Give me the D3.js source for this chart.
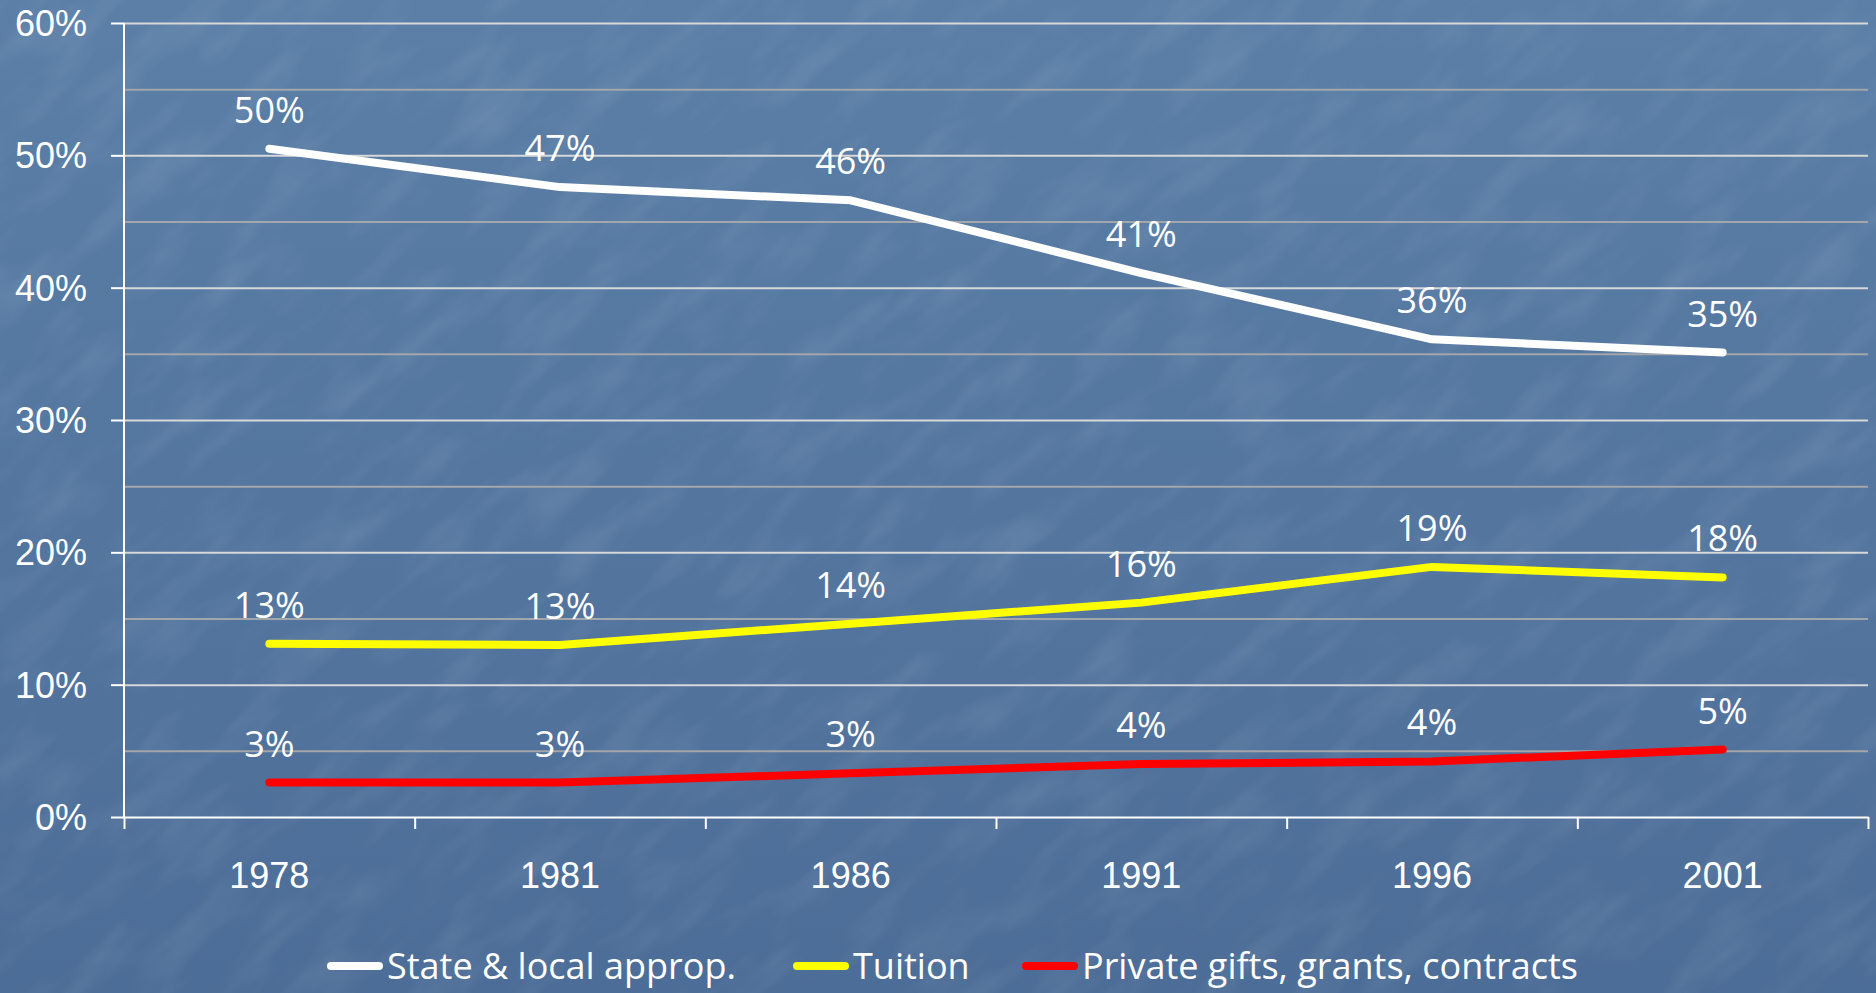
<!DOCTYPE html>
<html>
<head>
<meta charset="utf-8">
<script src="https://cdn.jsdelivr.net/npm/d3@7"></script>
<style>
  body { margin: 0; background: #52749c; }
  svg { display: block; font-family: "Open Sans", "Noto Sans", sans-serif; }
</style>
</head>
<body>
<div id="chart"></div>
<script>
var years = ["1978", "1981", "1986", "1991", "1996", "2001"];
var stateLocal = [0.505, 0.476, 0.466, 0.411, 0.361, 0.351];
var tuition = [0.131, 0.130, 0.146, 0.162, 0.189, 0.181];
var privateGifts = [0.026, 0.026, 0.033, 0.040, 0.042, 0.051];
var pointLabels = [
    ["50%", "47%", "46%", "41%", "36%", "35%"],
    ["13%", "13%", "14%", "16%", "19%", "18%"],
    ["3%", "3%", "3%", "4%", "4%", "5%"]
];
var seriesNames = ["State & local approp.", "Tuition", "Private gifts, grants, contracts"];
var seriesColors = ["#ffffff", "#ffff00", "#ff0000"];
var yTicks = [0, 0.1, 0.2, 0.3, 0.4, 0.5, 0.6];
var yMinorTicks = [0.05, 0.15, 0.25, 0.35, 0.45, 0.55];

var W = 1876, H = 993;
var margin = {top: 23, right: 8, bottom: 176, left: 124};
var series = [stateLocal, tuition, privateGifts];
var fontSize = "36px";

var svg = d3.select("#chart").append("svg")
    .attr("width", W)
    .attr("height", H);

// Background: blue gradient with a soft texture
var defs = svg.append("defs");
var grad = defs.append("linearGradient")
    .attr("id", "bg")
    .attr("x1", 0).attr("y1", 0).attr("x2", 0).attr("y2", 1);
grad.append("stop").attr("offset", "0%").attr("stop-color", "#5b7fa7");
grad.append("stop").attr("offset", "100%").attr("stop-color", "#4c6d97");
var filt = defs.append("filter").attr("id", "grain")
    .attr("x", 0).attr("y", 0).attr("width", "100%").attr("height", "100%");
filt.append("feTurbulence")
    .attr("type", "fractalNoise")
    .attr("baseFrequency", "0.01 0.03")
    .attr("numOctaves", 3)
    .attr("seed", 7);
filt.append("feColorMatrix")
    .attr("type", "matrix")
    .attr("values", "0 0 0 0 1  0 0 0 0 1  0 0 0 0 1  0 0 0 0.9 -0.4");
svg.append("rect").attr("width", W).attr("height", H).attr("fill", "url(#bg)");
svg.append("g")
    .attr("transform", "rotate(-40 " + W / 2 + " " + H / 2 + ")")
    .attr("opacity", 0.2)
  .append("rect")
    .attr("x", -600).attr("y", -900)
    .attr("width", W + 1200).attr("height", H + 1800)
    .attr("filter", "url(#grain)");

var x = d3.scaleBand()
    .domain(years)
    .range([margin.left, W - margin.right])
    .paddingInner(0).paddingOuter(0);
var y = d3.scaleLinear()
    .domain([0, 0.6])
    .range([H - margin.bottom, margin.top]);
var cx = function(d, i) { return x(years[i]) + x.bandwidth() / 2; };

// Minor gridlines (grey) then major gridlines (light)
svg.append("g")
    .attr("transform", "translate(" + margin.left + ",0)")
    .call(d3.axisLeft(y).tickValues(yMinorTicks)
        .tickSize(-(W - margin.left - margin.right)).tickFormat(""))
    .call(function(g) {
        g.select(".domain").remove();
        g.selectAll("line").attr("stroke", "#a3a6aa").attr("stroke-width", 2);
    });
svg.append("g")
    .attr("transform", "translate(" + margin.left + ",0)")
    .call(d3.axisLeft(y).tickValues(yTicks.slice(1))
        .tickSize(-(W - margin.left - margin.right)).tickFormat(""))
    .call(function(g) {
        g.select(".domain").remove();
        g.selectAll("line").attr("stroke", "#d6d8da").attr("stroke-width", 2);
    });

// Y axis
var yAxis = svg.append("g")
    .attr("transform", "translate(" + margin.left + ",0)")
    .call(d3.axisLeft(y).tickValues(yTicks).tickSize(13).tickPadding(24)
        .tickFormat(d3.format(".0%")));
yAxis.select(".domain").attr("d", "M0," + y(0.6) + "V" + y(0));
yAxis.selectAll("path, line").attr("stroke", "#ffffff").attr("stroke-width", 2);
yAxis.selectAll("text")
    .attr("fill", "#ffffff")
    .style("font-size", fontSize)
    .attr("dy", "0.35em");

// X axis: ticks at category boundaries, labels at centers
var xEdges = d3.scaleLinear().domain([0, years.length])
    .range([margin.left, W - margin.right]);
var xTickAxis = svg.append("g")
    .attr("transform", "translate(0," + y(0) + ")")
    .call(d3.axisBottom(xEdges).tickValues(d3.range(years.length + 1))
        .tickSize(12).tickSizeOuter(0).tickFormat(""));
xTickAxis.selectAll("path, line").attr("stroke", "#ffffff").attr("stroke-width", 2);

var xLabelAxis = svg.append("g")
    .attr("transform", "translate(0," + y(0) + ")")
    .call(d3.axisBottom(x).tickSize(0).tickPadding(45));
xLabelAxis.select(".domain").remove();
xLabelAxis.selectAll("text")
    .attr("fill", "#ffffff")
    .style("font-size", fontSize);

// Lines
var line = d3.line()
    .x(function(d, i) { return cx(d, i); })
    .y(function(d) { return y(d); });

series.forEach(function(s, k) {
    svg.append("path")
        .datum(s)
        .attr("d", line)
        .attr("fill", "none")
        .attr("stroke", seriesColors[k])
        .attr("stroke-width", 8)
        .attr("stroke-linecap", "round")
        .attr("stroke-linejoin", "round");
});

// Value labels above each point
series.forEach(function(s, k) {
    svg.append("g").selectAll("text")
        .data(s)
        .join("text")
        .attr("x", cx)
        .attr("y", function(d) { return y(d) - 26; })
        .attr("text-anchor", "middle")
        .attr("fill", "#ffffff")
        .style("font-size", fontSize)
        .text(function(d, i) { return pointLabels[k][i]; });
});

// Legend (nudged up so descenders stay inside the frame)
var legendX = [327, 793, 1022];
var legend = svg.append("g").attr("transform", "translate(0,966)");
seriesNames.forEach(function(name, k) {
    var item = legend.append("g").attr("transform", "translate(" + legendX[k] + ",0)");
    item.append("line")
        .attr("x1", 4).attr("x2", 52)
        .attr("stroke", seriesColors[k])
        .attr("stroke-width", 8)
        .attr("stroke-linecap", "round");
    item.append("text")
        .attr("x", 60)
        .attr("dy", "0.35em")
        .attr("fill", "#ffffff")
        .style("font-size", fontSize)
        .text(name);
});
</script>
</body>
</html>
